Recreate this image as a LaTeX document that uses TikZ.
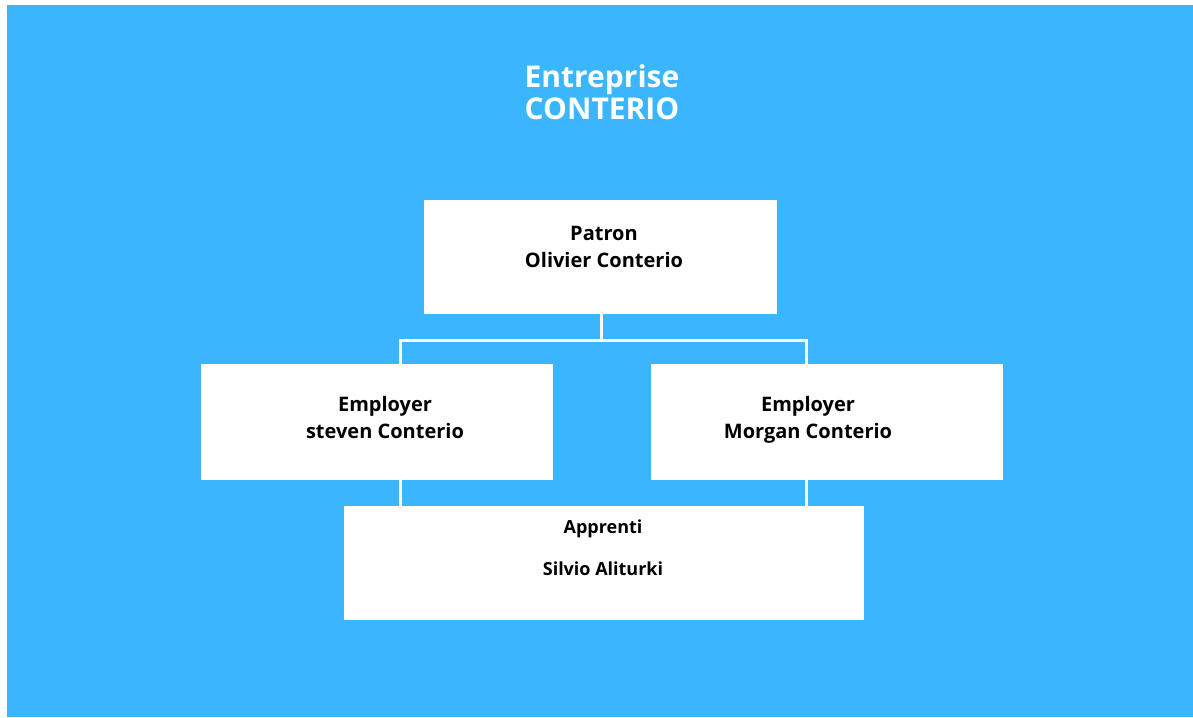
\documentclass[tikz,border=0pt]{standalone}
\usepackage{fontspec}
\setmainfont{Open Sans}
\usetikzlibrary{positioning}

\definecolor{skyblue}{RGB}{58,182,255}

\tikzset{
  box/.style={draw=none, fill=white, inner sep=0pt},
  boxtext/.style={align=center, text=black, font=\fontsize{20}{27}\selectfont\bfseries},
  link/.style={draw=white, line width=3pt}
}

\begin{document}
\begin{tikzpicture}[x=1pt, y=1pt]
  \useasboundingbox (0,0) rectangle (1193,717);
  \fill[white] (0,0) rectangle (1193,717);
  \fill[skyblue] (7,0) rectangle (1193,712);

  % title
  \node[align=center, text=white, font=\fontsize{30}{32}\selectfont\bfseries] (title) at (602,625) {Entreprise\\CONTERIO};

  % boxes
  \node[box, minimum width=353pt, minimum height=114pt] (patron) at (600.5,460) {};
  \node[box, minimum width=352pt, minimum height=116pt] (steven) at (377,295) {};
  \node[box, minimum width=352pt, minimum height=116pt] (morgan) at (827,295) {};
  \node[box, minimum width=520pt, minimum height=114pt] (apprenti) at (604,154) {};

  \node[boxtext] (patrontxt) at (604,470.5) {Patron\\Olivier Conterio};
  \node[boxtext] (steventxt) at (385,299.5) {Employer\\steven Conterio};
  \node[boxtext] (morgantxt) at (808,297.5) {Employer\\Morgan Conterio};
  \node[boxtext, font=\fontsize{18}{42}\selectfont\bfseries] (apprentitxt) at (603,169) {Apprenti\\Silvio Aliturki};

  % links
  \coordinate (top) at (601,376);
  \coordinate (left) at (400,376);
  \coordinate (right) at (806,376);
  \draw[link] (patron.south -| top) -- (top);
  \draw[link, line cap=rect] (left) -- (right);
  \draw[link] (left) -- (steven.north -| left);
  \draw[link] (right) -- (morgan.north -| right);
  \draw[link] (steven.south -| left) -- (apprenti.north -| left);
  \draw[link] (morgan.south -| right) -- (apprenti.north -| right);
\end{tikzpicture}
\end{document}
